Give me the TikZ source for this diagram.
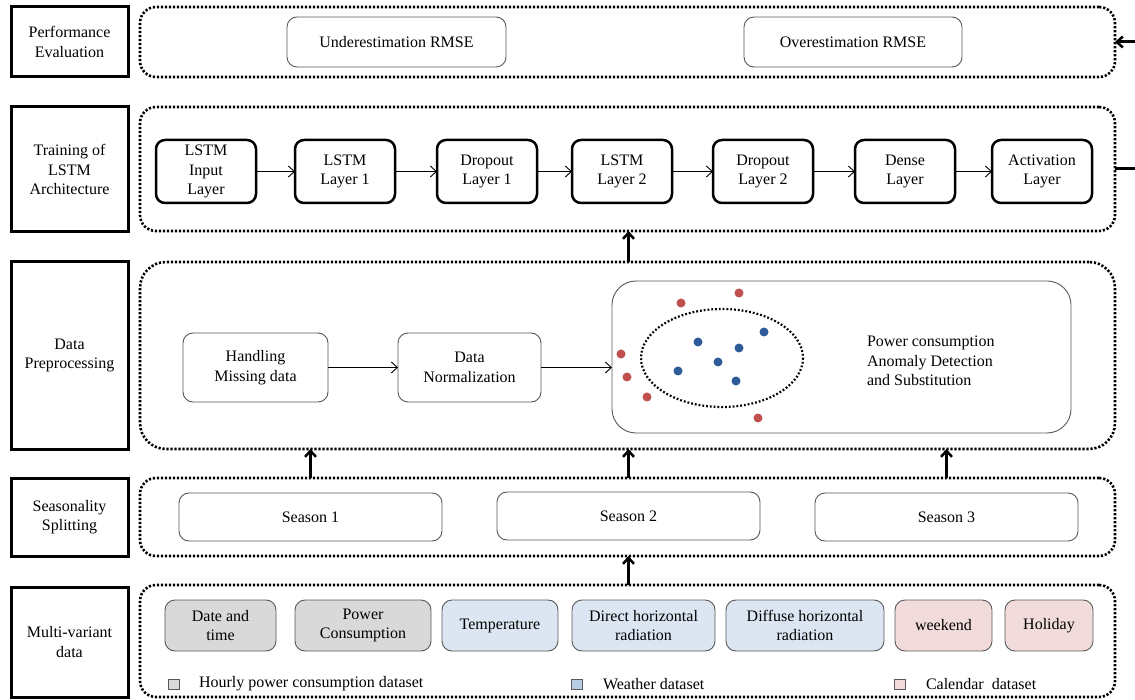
\documentclass[tikz,border=0pt]{standalone}
\usepackage{fontspec}
\setmainfont{Liberation Serif}
\usetikzlibrary{arrows.meta}
\definecolor{dotred}{HTML}{C0504D}
\definecolor{dotblue}{HTML}{2E5C99}
\definecolor{fgray}{HTML}{D9D9D9}
\definecolor{fblue}{HTML}{DCE6F2}
\definecolor{fpink}{HTML}{F2DCDB}
\definecolor{lblue}{HTML}{B9CDE5}
\definecolor{edge}{HTML}{595959}
\tikzset{
 base/.style={font=\fontsize{16}{19.5}\selectfont, align=center, inner sep=0pt, outer sep=0pt},
 stage/.style={base, draw, line width=3pt},
 group/.style={draw, line width=2.6pt, dash pattern=on 2.2pt off 1.8pt, rounded corners=16pt, inner sep=0pt, outer sep=0pt},
 soft/.style={base, draw=edge, line width=0.9pt, rounded corners=10pt},
 layer/.style={base, draw, line width=2.5pt, rounded corners=9pt, minimum width=100pt, minimum height=63pt},
 flow/.style={-{Straight Barb[length=6pt,width=11pt]}, line width=0.9pt},
 up/.style={-{Straight Barb[length=6pt,width=11pt,line width=2.5pt]}, line width=3pt},
 rdot/.style={circle, fill=dotred, inner sep=0pt, minimum size=9pt},
 bdot/.style={circle, fill=dotblue, inner sep=0pt, minimum size=9pt},
 legsq/.style={draw=edge, line width=0.8pt, minimum width=11pt, minimum height=10pt, inner sep=0pt},
 legtxt/.style={base, anchor=west},
}
\begin{document}
\begin{tikzpicture}[x=1pt,y=-1pt]
\useasboundingbox (0,0) rectangle (1135,700);
\fill[white] (0,0) rectangle (1135,700);

% left stage labels
\node[stage, minimum width=117pt, minimum height=70pt] (pe) at (69.5,42) {Performance\\Evaluation};
\node[stage, minimum width=117pt, minimum height=125pt] (tr) at (69.5,169.5) {Training of\\LSTM\\Architecture};
\node[stage, minimum width=117pt, minimum height=187pt] (dp) at (69.5,355.5) {Data\\Preprocessing};
\node[stage, minimum width=117pt, minimum height=78pt] (ss) at (69.5,517) {Seasonality\\Splitting};
\node[stage, minimum width=117pt, minimum height=110pt] (mv) at (69.5,642) {Multi-variant\\data};

% dotted groups
\node[group, minimum width=975pt, minimum height=70pt] (g1) at (627.5,42) {};
\node[group, minimum width=975pt, minimum height=124pt] (g2) at (627.5,169) {};
\node[group, rounded corners=26pt, minimum width=975pt, minimum height=187pt] (g3) at (627.5,355.5) {};
\node[group, minimum width=975pt, minimum height=78pt] (g4) at (627.5,517) {};
\node[group, minimum width=975pt, minimum height=112pt] (g5) at (627.5,641) {};

% row 1
\node[soft, minimum width=219pt, minimum height=50pt] (under) at (396.5,42) {Underestimation RMSE};
\node[soft, minimum width=218pt, minimum height=50pt] (over) at (853,42) {Overestimation RMSE};

% row 2
\node[layer] (l0) at (206,171.5) {LSTM\\Input\\Layer};
\node[layer] (l1) at (345,171.5) {LSTM\\Layer 1};
\node[layer] (l2) at (487,171.5) {Dropout\\Layer 1};
\node[layer] (l3) at (622,171.5) {LSTM\\Layer 2};
\node[layer] (l4) at (763,171.5) {Dropout\\Layer 2};
\node[layer] (l5) at (905,171.5) {Dense\\Layer};
\node[layer] (l6) at (1042,171.5) {Activation\\Layer};
\foreach \a/\b in {l0/l1,l1/l2,l2/l3,l3/l4,l4/l5,l5/l6}
  \draw[flow] (\a) -- (\b);

% row 3
\node[soft, minimum width=145pt, minimum height=69pt] (miss) at (255.5,367.5) {Handling\\Missing data};
\node[soft, minimum width=143pt, minimum height=69pt] (norm) at (469.5,367.5) {Data\\Normalization};
\node[soft, rounded corners=24pt, minimum width=459pt, minimum height=152pt] (anom) at (841.5,357) {};
\draw[flow] (miss) -- (norm);
\draw[flow] (norm.east) -- (norm.east -| anom.west);
\draw[line width=2.2pt, dash pattern=on 1.8pt off 2pt] (722,358) ellipse [x radius=81, y radius=49];
\node[rdot] (r1) at (681,303) {};
\node[rdot] (r2) at (739,293) {};
\node[rdot] (r3) at (621,354) {};
\node[rdot] (r4) at (627,377) {};
\node[rdot] (r5) at (647,397) {};
\node[rdot] (r6) at (758,418) {};
\node[bdot] (b1) at (698,342) {};
\node[bdot] (b2) at (764,332) {};
\node[bdot] (b3) at (739,348) {};
\node[bdot] (b4) at (718,362) {};
\node[bdot] (b5) at (678,371) {};
\node[bdot] (b6) at (736,381) {};
\node[base, align=left, anchor=west] (anomtxt) at (867,361) {Power consumption\\Anomaly Detection\\and Substitution};

% row 4
\node[soft, minimum width=263pt, minimum height=48pt] (s1) at (310.5,517) {Season 1};
\node[soft, minimum width=263pt, minimum height=48pt] (s2) at (628.5,516) {Season 2};
\node[soft, minimum width=263pt, minimum height=48pt] (s3) at (946.5,517) {Season 3};

% row 5
\node[soft, fill=fgray, minimum width=111pt, minimum height=51pt] (f1) at (220.5,625.5) {Date and\\time};
\node[soft, fill=fgray, minimum width=136pt, minimum height=51pt] (f2) at (363,625.5) {Power\\Consumption};
\node[soft, fill=fblue, minimum width=116pt, minimum height=51pt] (f3) at (500,625.5) {Temperature};
\node[soft, fill=fblue, minimum width=143pt, minimum height=51pt] (f4) at (643.5,625.5) {Direct horizontal\\radiation};
\node[soft, fill=fblue, minimum width=158pt, minimum height=51pt] (f5) at (805,625.5) {Diffuse horizontal\\radiation};
\node[soft, fill=fpink, minimum width=97pt, minimum height=51pt] (f6) at (943.5,625.5) {weekend};
\node[soft, fill=fpink, minimum width=88pt, minimum height=51pt] (f7) at (1049,625.5) {Holiday};

% legend
\node[legsq, fill=fgray] (k1) at (174,684) {};
\node[legtxt] (t1) at (199,684) {Hourly power consumption dataset};
\node[legsq, fill=lblue] (k2) at (577,684) {};
\node[legtxt] (t2) at (603,684) {Weather dataset};
\node[legsq, fill=fpink] (k3) at (900,684) {};
\node[legtxt] (t3) at (926,684) {Calendar~ dataset};

% vertical arrows
\draw[up] (g3.north -| s2.north) -- (g2.south -| s2.north);
\draw[up] (g4.north -| s1.north) -- (g3.south -| s1.north);
\draw[up] (g4.north -| s2.north) -- (g3.south -| s2.north);
\draw[up] (g4.north -| s3.north) -- (g3.south -| s3.north);
\draw[up] (g5.north -| s2.north) -- (g4.south -| s2.north);

% right side connectors
\coordinate (rt1) at (1135,42);
\coordinate (rt2) at (1135,169);
\draw[up] (rt1) -- (g1.east);
\draw[line width=3pt] (g2.east) -- (rt2);
\end{tikzpicture}
\end{document}
